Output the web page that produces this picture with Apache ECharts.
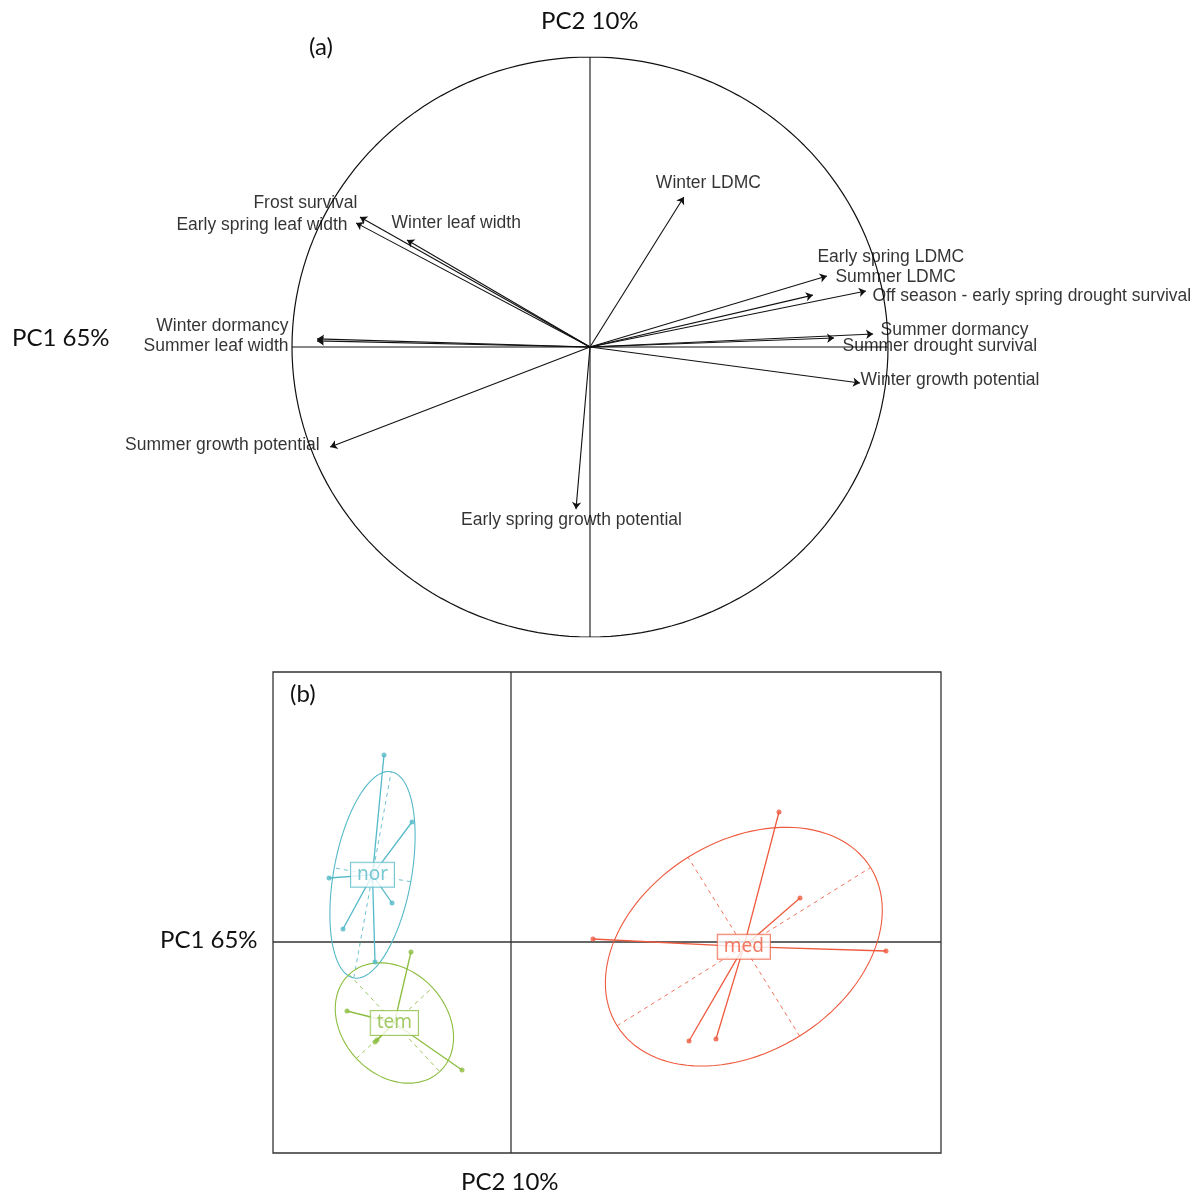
<!DOCTYPE html>
<html>
<head>
<meta charset="utf-8">
<script src="https://cdn.jsdelivr.net/npm/echarts@6/dist/echarts.min.js"></script>
<style>
html,body{margin:0;padding:0;background:#fff;}
#chart{width:1202px;height:1193px;}
</style>
</head>
<body>
<div id="chart"></div>
<script>
// ---------- Panel (a): variable loadings ----------
const traitNames = [
  'Winter LDMC', 'Early spring LDMC', 'Summer LDMC',
  'Off season - early spring drought survival', 'Summer dormancy',
  'Summer drought survival', 'Winter growth potential', 'Winter dormancy',
  'Summer leaf width', 'Frost survival', 'Early spring leaf width',
  'Winter leaf width', 'Summer growth potential', 'Early spring growth potential'
];
const traitPC2 = [0.315, 0.795, 0.748, 0.926, 0.950, 0.819, 0.906, -0.916, -0.916, -0.772, -0.785, -0.614, -0.872, -0.047];
const traitPC1 = [0.517, 0.245, 0.179, 0.193, 0.045, 0.031, -0.124, 0.028, 0.021, 0.448, 0.428, 0.369, -0.345, -0.559];

// ---------- Panel (b): group scores ----------
const groupNames = ['nor', 'tem', 'med'];
const norX = [-1.27, -0.99, -1.82, -1.19, -1.68, -1.36];
const norY = [1.87, 1.20, 0.64, 0.39, 0.13, -0.20];
const temX = [-1.00, -1.64, -1.34, -1.36, -0.49];
const temY = [-0.10, -0.69, -0.98, -1.00, -1.28];
const medX = [2.68, 2.89, 0.82, 3.75, 1.78, 2.05];
const medY = [1.30, 0.44, 0.03, -0.09, -0.99, -0.97];

const axisTitleX = 'PC2 10%';
const axisTitleY = 'PC1 65%';

// ---------- layout / style (not data) ----------
const labelPlace = {
  'Winter LDMC': ['center', 25, -13],
  'Early spring LDMC': ['left', -9, -18],
  'Summer LDMC': ['left', 23, -17],
  'Off season - early spring drought survival': ['left', 7, 6],
  'Summer dormancy': ['left', 8, -3],
  'Summer drought survival': ['left', 9, 9],
  'Winter growth potential': ['left', 1, -2],
  'Winter dormancy': ['right', -28, -12],
  'Summer leaf width': ['right', -28, 6],
  'Frost survival': ['right', -2, -13],
  'Early spring leaf width': ['right', -8, 3],
  'Winter leaf width': ['left', -15, -16],
  'Summer growth potential': ['right', -10, -1],
  'Early spring growth potential': ['center', -4, 12]
};
const groupColors = {nor: '#55b9c8', tem: '#8cbd3f', med: '#ee5a3e'};
const bX = [-2.38, 4.30], bY = [-2.11, 2.70];

function ellipseOf(xs, ys, c) {
  const n = xs.length;
  const mx = xs.reduce((a, b) => a + b, 0) / n;
  const my = ys.reduce((a, b) => a + b, 0) / n;
  let vx = 0, vy = 0, cv = 0;
  for (let i = 0; i < n; i++) {
    const dx = xs[i] - mx, dy = ys[i] - my;
    vx += dx * dx; vy += dy * dy; cv += dx * dy;
  }
  vx /= n; vy /= n; cv /= n;
  const tr = (vx + vy) / 2, d = Math.sqrt(((vx - vy) / 2) ** 2 + cv * cv);
  const l1 = tr + d, l2 = Math.max(tr - d, 0);
  const th = 0.5 * Math.atan2(2 * cv, vx - vy);
  const a = c * Math.sqrt(l1), b = c * Math.sqrt(l2);
  const ux = Math.cos(th), uy = Math.sin(th);
  const pts = [];
  for (let k = 0; k <= 120; k++) {
    const t = 2 * Math.PI * k / 120;
    pts.push([mx + a * Math.cos(t) * ux - b * Math.sin(t) * uy,
              my + a * Math.cos(t) * uy + b * Math.sin(t) * ux]);
  }
  const axes = [
    [[mx - a * ux, my - a * uy], [mx + a * ux, my + a * uy]],
    [[mx + b * uy, my - b * ux], [mx - b * uy, my + b * ux]]
  ];
  return {mx, my, pts, axes};
}

const series = [];
// circle
const circ = [];
for (let k = 0; k <= 360; k += 2) {
  const t = k * Math.PI / 180;
  circ.push([Math.cos(t), Math.sin(t)]);
}
series.push({type: 'line', xAxisIndex: 0, yAxisIndex: 0, data: circ, showSymbol: false, symbol: 'none',
  lineStyle: {color: '#111', width: 1.2}, silent: true});
series.push({type: 'line', xAxisIndex: 0, yAxisIndex: 0, data: [[-1, 0], [1, 0]], symbol: 'none',
  lineStyle: {color: '#111', width: 1.1}, silent: true});
series.push({type: 'line', xAxisIndex: 0, yAxisIndex: 0, data: [[0, -1], [0, 1]], symbol: 'none',
  lineStyle: {color: '#111', width: 1.1}, silent: true});
// arrows
series.push({
  type: 'lines', coordinateSystem: 'cartesian2d', xAxisIndex: 0, yAxisIndex: 0,
  symbol: ['none', 'arrow'], symbolSize: 7,
  lineStyle: {color: '#111', width: 1.1, opacity: 1},
  data: traitNames.map((n, i) => ({coords: [[0, 0], [traitPC2[i], traitPC1[i]]]})),
  silent: true, z: 3
});
// arrow labels
series.push({
  type: 'scatter', xAxisIndex: 0, yAxisIndex: 0, symbolSize: 1,
  itemStyle: {color: 'rgba(0,0,0,0)'}, silent: true, z: 4,
  data: traitNames.map((n, i) => {
    const p = labelPlace[n];
    return {
      name: n, value: [traitPC2[i], traitPC1[i]],
      label: {show: true, position: [p[1], p[2]], align: p[0], verticalAlign: 'middle',
        formatter: '{b}', color: '#000', fontSize: 17.5, fontFamily: 'Liberation Sans, Arial, sans-serif'}
    };
  })
});

// panel b axes lines
series.push({type: 'line', xAxisIndex: 1, yAxisIndex: 1, data: [[bX[0], 0], [bX[1], 0]], symbol: 'none',
  lineStyle: {color: '#333', width: 1.3}, silent: true, z: 1});
series.push({type: 'line', xAxisIndex: 1, yAxisIndex: 1, data: [[0, bY[0]], [0, bY[1]]], symbol: 'none',
  lineStyle: {color: '#333', width: 1.3}, silent: true, z: 1});

const groups = {nor: [norX, norY], tem: [temX, temY], med: [medX, medY]};
groupNames.forEach(g => {
  const xs = groups[g][0], ys = groups[g][1];
  const col = groupColors[g];
  const e = ellipseOf(xs, ys, 1.5);
  series.push({type: 'line', xAxisIndex: 1, yAxisIndex: 1, data: e.pts, symbol: 'none', smooth: false,
    lineStyle: {color: col, width: 1.1}, silent: true, z: 2});
  series.push({type: 'lines', coordinateSystem: 'cartesian2d', xAxisIndex: 1, yAxisIndex: 1,
    lineStyle: {color: col, width: 1, type: [4, 4], opacity: 0.85},
    data: e.axes.map(a => ({coords: a})), silent: true, z: 2});
  series.push({type: 'lines', coordinateSystem: 'cartesian2d', xAxisIndex: 1, yAxisIndex: 1,
    lineStyle: {color: col, width: 1.3, opacity: 1},
    data: xs.map((x, i) => ({coords: [[e.mx, e.my], [x, ys[i]]]})), silent: true, z: 3});
  series.push({type: 'scatter', xAxisIndex: 1, yAxisIndex: 1, symbolSize: 5,
    itemStyle: {color: col}, data: xs.map((x, i) => [x, ys[i]]), silent: true, z: 4});
  series.push({type: 'scatter', xAxisIndex: 1, yAxisIndex: 1, symbolSize: 1,
    itemStyle: {color: 'rgba(0,0,0,0)'}, silent: true, z: 6,
    data: [{name: g, value: [e.mx, e.my]}],
    label: {show: true, position: 'inside', formatter: '{b}', color: col, fontSize: 19,
      fontFamily: 'Noto Sans, sans-serif', backgroundColor: '#fff', borderColor: col, borderWidth: 1,
      padding: [1, 6, 1, 6], lineHeight: 22}});
});

const titleFont = {fontFamily: 'Lato, sans-serif', fontSize: 24, fill: '#111'};
const option = {
  animation: false,
  backgroundColor: '#fff',
  grid: [
    {left: 292, top: 57, width: 596, height: 580, show: false},
    {left: 273, top: 672, width: 668, height: 481, show: true, borderColor: '#333', borderWidth: 1.3, backgroundColor: 'transparent'}
  ],
  xAxis: [
    {gridIndex: 0, type: 'value', min: -1, max: 1, show: false},
    {gridIndex: 1, type: 'value', min: bX[0], max: bX[1], show: false}
  ],
  yAxis: [
    {gridIndex: 0, type: 'value', min: -1, max: 1, show: false},
    {gridIndex: 1, type: 'value', min: bY[0], max: bY[1], show: false}
  ],
  graphic: [
    {type: 'text', left: 541, top: 9, style: Object.assign({text: axisTitleX}, titleFont)},
    {type: 'text', left: 12, top: 326, style: Object.assign({text: axisTitleY}, titleFont)},
    {type: 'text', left: 309, top: 35, style: Object.assign({text: '(a)'}, titleFont)},
    {type: 'text', left: 290, top: 682, style: Object.assign({text: '(b)'}, titleFont)},
    {type: 'text', left: 160, top: 928, style: Object.assign({text: axisTitleY}, titleFont)},
    {type: 'text', left: 461, top: 1170, style: Object.assign({text: axisTitleX}, titleFont)}
  ],
  series: series
};
const chart = echarts.init(document.getElementById('chart'), null, {renderer: 'canvas'});
chart.setOption(option);
</script>
</body>
</html>
